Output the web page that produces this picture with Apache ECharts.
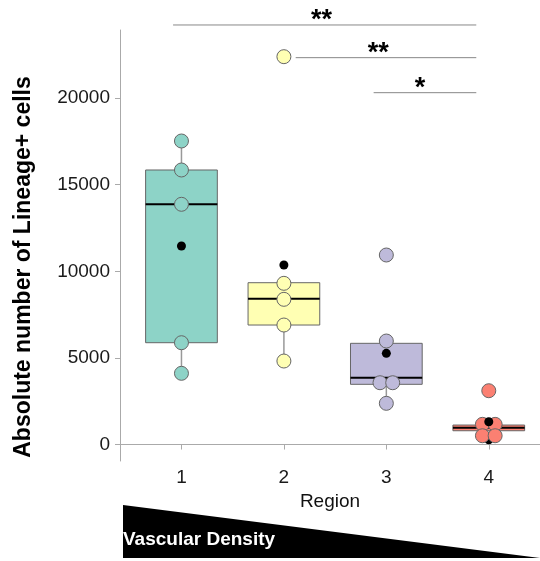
<!DOCTYPE html>
<html>
<head>
<meta charset="utf-8">
<script src="https://cdn.jsdelivr.net/npm/echarts@6/dist/echarts.min.js"></script>
<style>html,body{margin:0;padding:0;background:#fff}#c{width:540px;height:561px}</style>
</head>
<body>
<div id="c"></div>
<script>
// ---- data ----
const regions = [1, 2, 3, 4];
const xTickLabels = ['1', '2', '3', '4'];
const yTicks = [0, 5000, 10000, 15000, 20000];
const regionColors = ['#8DD3C7', '#FFFFB3', '#BEBADA', '#FB8072'];

// box statistics per region
const whiskerLow  = [4111, 4821, 2379, 797];
const q1          = [5878, 6899, 3476, 797];
const median      = [13868, 8418, 3857, 970];
const q3          = [15849, 9342, 5843, 1126];
const whiskerHigh = [17523, 9342, 5843, 1126];
const means       = [11460, 10364, 5266, 1316];

// boxplot outliers (drawn black, beneath the dots)
const outlierRegion = [2, 3, 4, 4];
const outlierValue  = [22390, 10941, 3107, 270];

// dot positions per region (value, side-by-side slot)
const dotsR1 = [17523, 15849, 13868, 5878, 4111];
const dotsR2 = [22390, 9307, 8383, 6899, 4821];
const dotsR3 = [10941, 5976, 3568, 3568, 2379];
const dotsR4 = [3107, 1166, 1166, 508, 508];
const slotR1 = [0, 0, 0, 0, 0];
const slotR2 = [0, 0, 0, 0, 0];
const slotR3 = [0, 0, -1, 1, 0];
const slotR4 = [0, -1, 1, -1, 1];

// significance annotations
const sigFrom  = [0.918, 2.115, 2.876];
const sigTo    = [3.878, 3.878, 3.878];
const sigLevel = [24220, 22333, 20312];
const sigLabelX = [2.366, 2.922, 3.328];
const sigText  = ['**', '**', '*'];

// ---- build ----
const BOX_HALF = 0.35;
const SLOT = 0.062;
const allDots = [dotsR1, dotsR2, dotsR3, dotsR4];
const allSlots = [slotR1, slotR2, slotR3, slotR4];
const dotData = [];
allDots.forEach((arr, i) => arr.forEach((v, j) => {
  dotData.push({ value: [regions[i] + allSlots[i][j] * SLOT, v], itemStyle: { color: regionColors[i] } });
}));
const boxData = regions.map((r, i) => [r, q1[i], median[i], q3[i], whiskerLow[i], whiskerHigh[i]]);
const sigData = sigFrom.map((f, i) => [f, sigTo[i], sigLevel[i], sigLabelX[i]]);

const FONT = 'Liberation Sans, Arial, sans-serif';
const chart = echarts.init(document.getElementById('c'), null, { renderer: 'canvas' });
chart.setOption({
  backgroundColor: '#fff',
  animation: false,
  grid: { left: 120, right: 0, top: 30, bottom: 100, containLabel: false },
  xAxis: {
    type: 'value', min: 0.4, max: 4.5,
    name: 'Region', nameLocation: 'middle', nameGap: 27,
    nameTextStyle: { fontFamily: FONT, fontSize: 19, color: '#111' },
    axisLine: { show: true, lineStyle: { color: '#aaa', width: 1 } },
    axisTick: { show: true, length: 5, lineStyle: { color: '#aaa' }, customValues: regions },
    axisLabel: { customValues: regions, margin: 7, fontFamily: FONT, fontSize: 19, color: '#1a1a1a',
      formatter: v => xTickLabels[regions.indexOf(v)] },
    splitLine: { show: false }
  },
  yAxis: {
    type: 'value', min: -950, max: 23930,
    axisLine: { show: true, lineStyle: { color: '#aaa', width: 1 } },
    axisTick: { show: true, length: 5, lineStyle: { color: '#aaa' }, customValues: yTicks },
    axisLabel: { customValues: yTicks, margin: 10, fontFamily: FONT, fontSize: 19, color: '#1a1a1a',
      formatter: v => String(v) },
    splitLine: { show: false }
  },
  graphic: [
    { type: 'text', x: 24, y: 267, rotation: Math.PI / 2,
      style: { text: 'Absolute number of Lineage+ cells', fontFamily: FONT, fontWeight: 'bold', fontSize: 23,
        fill: '#000', textAlign: 'center', textVerticalAlign: 'middle' } },
    { type: 'polygon', shape: { points: [[123, 505], [540, 558], [123, 558]] }, style: { fill: '#000' } },
    { type: 'text', x: 123, y: 540,
      style: { text: 'Vascular Density', fontFamily: FONT, fontWeight: 'bold', fontSize: 19,
        fill: '#fff', textAlign: 'left', textVerticalAlign: 'middle' } }
  ],
  series: [
    {
      type: 'custom', name: 'box', data: boxData, z: 2,
      renderItem: (params, api) => {
        const i = params.dataIndex;
        const x = api.value(0);
        const tl = api.coord([x - BOX_HALF, api.value(3)]);
        const br = api.coord([x + BOX_HALF, api.value(1)]);
        const med = api.coord([x, api.value(2)]);
        const wl = api.coord([x, api.value(4)]);
        const wh = api.coord([x, api.value(5)]);
        const cx = med[0];
        return { type: 'group', children: [
          { type: 'line', shape: { x1: cx, y1: wl[1], x2: cx, y2: br[1] }, style: { stroke: '#999', lineWidth: 1.5 } },
          { type: 'line', shape: { x1: cx, y1: tl[1], x2: cx, y2: wh[1] }, style: { stroke: '#999', lineWidth: 1.5 } },
          { type: 'rect', shape: { x: tl[0], y: tl[1], width: br[0] - tl[0], height: br[1] - tl[1] },
            style: { fill: regionColors[i], stroke: '#666', lineWidth: 1 } },
          { type: 'line', shape: { x1: tl[0], y1: med[1], x2: br[0], y2: med[1] }, style: { stroke: '#000', lineWidth: 2 } }
        ] };
      }
    },
    {
      type: 'scatter', name: 'outliers', z: 3, symbol: 'circle', symbolSize: 9,
      itemStyle: { color: '#000', opacity: 1 },
      data: outlierRegion.map((r, i) => [r, outlierValue[i]])
    },
    {
      type: 'scatter', name: 'dots', z: 4, symbol: 'circle', symbolSize: 14,
      itemStyle: { borderColor: '#666', borderWidth: 1, opacity: 1 },
      data: dotData
    },
    {
      type: 'scatter', name: 'mean', z: 5, symbol: 'circle', symbolSize: 9,
      itemStyle: { color: '#000', opacity: 1 },
      data: regions.map((r, i) => [r, means[i]])
    },
    {
      type: 'custom', name: 'sig', data: sigData, z: 6, clip: false,
      renderItem: (params, api) => {
        const i = params.dataIndex;
        const a = api.coord([api.value(0), api.value(2)]);
        const b = api.coord([api.value(1), api.value(2)]);
        const t = api.coord([api.value(3), api.value(2)]);
        return { type: 'group', children: [
          { type: 'line', shape: { x1: a[0], y1: a[1], x2: b[0], y2: b[1] }, style: { stroke: '#888', lineWidth: 1 } },
          { type: 'text', x: t[0], y: a[1] - 4,
            style: { text: sigText[i], fontFamily: FONT, fontWeight: 'bold', fontSize: 27, fill: '#000', textAlign: 'center', textVerticalAlign: 'middle' } }
        ] };
      }
    }
  ]
});
</script>
</body>
</html>
